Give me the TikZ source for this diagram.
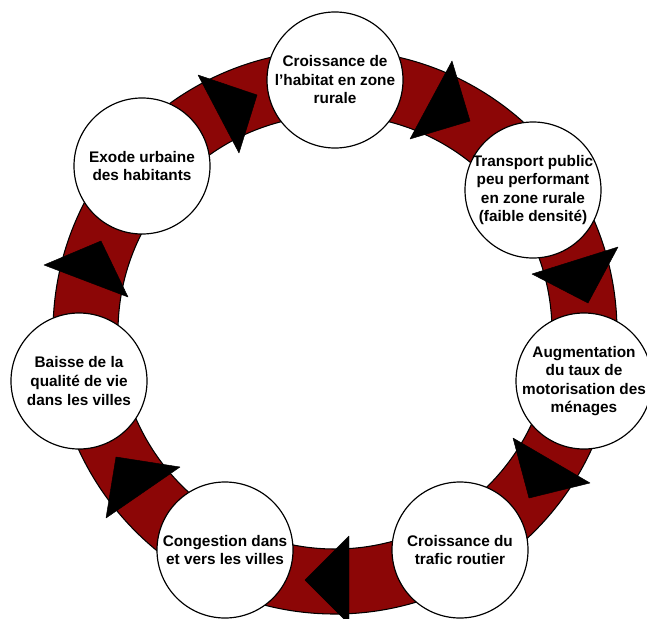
\documentclass[tikz,border=0pt]{standalone}
\usepackage{fontspec}
\setmainfont{Liberation Sans}
\usetikzlibrary{shapes.geometric}
\definecolor{ringred}{RGB}{140,6,6}
\tikzstyle{stage} = [circle, draw=black, line width=1pt, fill=white, minimum size=4.08cm, inner sep=-6pt, align=center, font=\fontsize{13.1pt}{15.8pt}\selectfont\bfseries]
\tikzstyle{ring} = [fill=ringred, draw=black, line width=0.9pt, even odd rule]
\tikzstyle{headtri} = [fill=black, draw=black, line width=0.4pt, line join=round]

\begin{document}
\begin{tikzpicture}[x=0.03cm, y=-0.03cm]
\useasboundingbox (0,0) rectangle (647,618);
\coordinate (hub) at (335,332);
% anneau
\path [ring] (hub) circle [radius=8.46cm] (hub) circle [radius=6.51cm];
% etapes du cycle
\node (habitat) [stage] at (335,80) {Croissance de\\l’habitat en zone\\rurale};
\node (transport) [stage] at (533,190) {Transport public\\peu performant\\en zone rurale\\(faible densité)};
\node (motor) [stage] at (584,381) {Augmentation\\du taux de\\motorisation des\\ménages};
\node (trafic) [stage] at (460,550) {Croissance du\\trafic routier};
\node (congestion) [stage] at (225,550) {Congestion dans\\et vers les villes};
\node (qualite) [stage] at (79,381) {Baisse de la\\qualité de vie\\dans les villes};
\node (exode) [stage] at (142,166) {Exode urbaine\\des habitants};
% fleches
\fill [headtri] (198,75) -- (257,95) -- (239,153) -- cycle;
\fill [headtri] (452,61) -- (470,121) -- (410,139) -- cycle;
\fill [headtri] (532,274) -- (618,247) -- (588,303) -- cycle;
\fill [headtri] (513,438) -- (590,483) -- (529,498) -- cycle;
\fill [headtri] (349,536) -- (349,624) -- (305,580) -- cycle;
\fill [headtri] (116,457) -- (180,467) -- (106,518) -- cycle;
\fill [headtri] (44,265) -- (101,241) -- (128,297) -- cycle;

\end{tikzpicture}
\end{document}
